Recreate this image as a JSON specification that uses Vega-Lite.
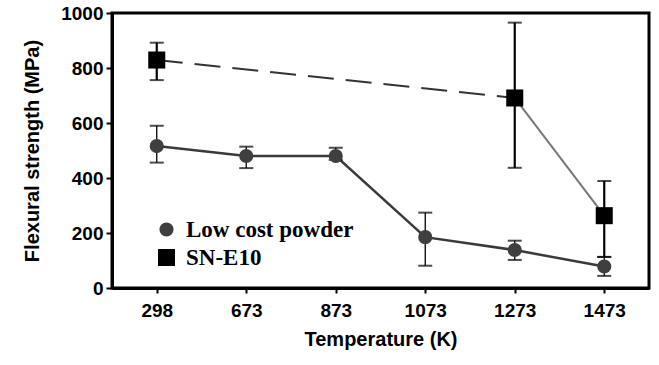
{
  "$schema": "https://vega.github.io/schema/vega-lite/v6.json",
  "autosize": {"type": "none"},
  "width": 537,
  "height": 275,
  "padding": {"left": 112, "top": 13, "right": 10, "bottom": 77},
  "background": "white",
  "config": {
    "view": {"stroke": "black", "strokeWidth": 3},
    "axis": {"grid": false, "domainColor": "black", "domainWidth": 3, "tickColor": "black", "tickWidth": 2,
      "labelFont": "Liberation Sans", "labelFontWeight": "bold", "labelFontSize": 19, "labelColor": "black",
      "titleFont": "Liberation Sans", "titleFontWeight": "bold", "titleFontSize": 20, "titleColor": "black"}
  },
  "data": {"values": [
    {"series": "Low cost powder", "temp": "298", "value": 516, "lo": 456, "hi": 590},
    {"series": "Low cost powder", "temp": "673", "value": 480, "lo": 436, "hi": 514},
    {"series": "Low cost powder", "temp": "873", "value": 480, "lo": 466, "hi": 510},
    {"series": "Low cost powder", "temp": "1073", "value": 185, "lo": 81, "hi": 274},
    {"series": "Low cost powder", "temp": "1273", "value": 138, "lo": 102, "hi": 172},
    {"series": "Low cost powder", "temp": "1473", "value": 78, "lo": 44, "hi": 113},
    {"series": "SN-E10", "temp": "298", "value": 829, "lo": 756, "hi": 892},
    {"series": "SN-E10", "temp": "1273", "value": 691, "lo": 437, "hi": 965},
    {"series": "SN-E10", "temp": "1473", "value": 263, "lo": 113, "hi": 389}
  ]},
  "encoding": {
    "x": {"field": "temp", "type": "ordinal", "sort": ["298","673","873","1073","1273","1473"],
      "scale": {"type": "point", "padding": 0.5},
      "axis": {"title": "Temperature (K)", "labelAngle": 0, "tickSize": 5, "labelPadding": 8, "titlePadding": 9}}
  },
  "layer": [
    {
      "transform": [{"filter": "datum.series == 'Low cost powder'"}],
      "mark": {"type": "line", "color": "#3a3a3a", "strokeWidth": 2.5},
      "encoding": {"y": {"field": "value", "type": "quantitative"}}
    },
    {
      "transform": [{"filter": "datum.series == 'SN-E10' && datum.temp != '1473'"}],
      "mark": {"type": "line", "color": "#333333", "strokeWidth": 2, "strokeDash": [26, 12]},
      "encoding": {"y": {"field": "value", "type": "quantitative"}}
    },
    {
      "transform": [{"filter": "datum.series == 'SN-E10' && datum.temp != '298'"}],
      "mark": {"type": "line", "color": "#777777", "strokeWidth": 2},
      "encoding": {"y": {"field": "value", "type": "quantitative"}}
    },
    {
      "transform": [{"filter": "datum.series == 'Low cost powder'"}],
      "mark": {"type": "rule", "color": "black", "strokeWidth": 1.3},
      "encoding": {"y": {"field": "lo", "type": "quantitative"}, "y2": {"field": "hi"}}
    },
    {
      "transform": [{"filter": "datum.series == 'SN-E10'"}],
      "mark": {"type": "rule", "color": "black", "strokeWidth": 2.2},
      "encoding": {"y": {"field": "lo", "type": "quantitative"}, "y2": {"field": "hi"}}
    },
    {
      "mark": {"type": "tick", "color": "black", "size": 14, "thickness": 2},
      "encoding": {"y": {"field": "lo", "type": "quantitative"}}
    },
    {
      "mark": {"type": "tick", "color": "black", "size": 14, "thickness": 2},
      "encoding": {"y": {"field": "hi", "type": "quantitative"}}
    },
    {
      "mark": {"type": "point", "filled": true, "opacity": 1},
      "encoding": {
        "y": {"field": "value", "type": "quantitative",
          "scale": {"domain": [0, 1000], "nice": false},
          "axis": {"title": "Flexural strength (MPa)", "values": [0,100,200,300,400,500,600,700,800,900,1000],
            "labelExpr": "datum.value % 200 == 0 ? format(datum.value, 'd') : ''", "tickSize": 6, "labelPadding": 3, "titlePadding": 18}},
        "shape": {"field": "series", "type": "nominal",
          "scale": {"domain": ["Low cost powder", "SN-E10"], "range": ["circle", "square"]},
          "legend": {"orient": "none", "legendX": 43, "legendY": 205, "title": null,
            "labelFont": "Liberation Serif", "labelFontWeight": "bold", "labelFontSize": 23, "labelColor": "black",
            "labelLimit": 400, "rowPadding": 4, "labelOffset": 8}},
        "color": {"field": "series", "type": "nominal",
          "scale": {"domain": ["Low cost powder", "SN-E10"], "range": ["#3f3f3f", "#000000"]}},
        "size": {"field": "series", "type": "nominal",
          "scale": {"domain": ["Low cost powder", "SN-E10"], "range": [200, 290]}}
      }
    }
  ]
}
